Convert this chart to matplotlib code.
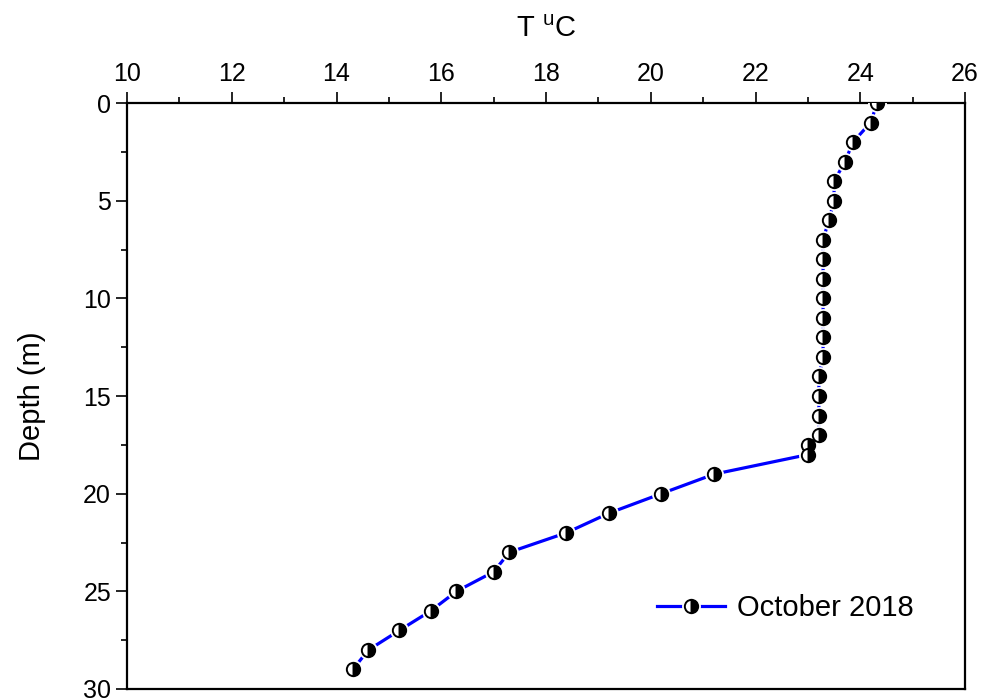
"""Temperature profile, October 2018."""
import matplotlib
matplotlib.use("Agg")
import matplotlib.pyplot as plt
from matplotlib.ticker import MultipleLocator
from matplotlib.legend_handler import HandlerTuple

plt.rcParams["font.family"] = ["Liberation Sans", "DejaVu Sans"]

depth = [0, 1, 2, 3, 4, 5, 6, 7, 8, 9, 10, 11, 12, 13, 14, 15, 16, 17,
         17.5, 18, 19, 20, 21, 22, 23, 24, 25, 26, 27, 28, 29]
temp = [24.32, 24.2, 23.86, 23.71, 23.5, 23.5, 23.4, 23.29, 23.29, 23.29,
        23.29, 23.29, 23.29, 23.29, 23.21, 23.21, 23.21, 23.21,
        23.0, 23.0, 21.21, 20.2, 19.2, 18.39, 17.3, 17.0, 16.29, 15.8,
        15.2, 14.61, 14.31]
label = "October 2018"

fig = plt.figure(figsize=(9.81, 6.98), dpi=100)
ax = fig.add_axes([0.1295, 0.0129, 0.8542, 0.8395])

line, = ax.plot(temp, depth, color="#0000ff", lw=2.3, zorder=2)
# white halo gives the gap between line and symbol
halo, = ax.plot(temp, depth, ls="none", marker="o", ms=13.6, mfc="white",
                mec="none", zorder=3)
mark, = ax.plot(temp, depth, ls="none", marker="o", ms=9.6, fillstyle="right",
                mfc="black", mfcalt="white", mec="black", mew=1.4, zorder=4)

ax.set_xlim(10, 26)
ax.set_ylim(30, 0)
ax.xaxis.set_major_locator(MultipleLocator(2))
ax.xaxis.set_minor_locator(MultipleLocator(1))
ax.yaxis.set_major_locator(MultipleLocator(5))
ax.yaxis.set_minor_locator(MultipleLocator(2.5))
ax.xaxis.tick_top()
ax.xaxis.set_label_position("top")
ax.tick_params(which="major", direction="out", length=8, width=1.2, labelsize=18)
ax.tick_params(which="minor", direction="out", length=4, width=1.2)
ax.tick_params(axis="x", pad=4)
for s in ax.spines.values():
    s.set_linewidth(1.6)

ax.set_xlabel(r"T $^{\mathregular{u}}$C", fontsize=21, labelpad=18)
ax.set_ylabel("Depth (m)", fontsize=21, labelpad=27)

ax.legend([(line, halo, mark)], [label], handler_map={tuple: HandlerTuple(ndivide=1)},
          loc="lower right", bbox_to_anchor=(0.97, 0.07), frameon=False,
          fontsize=21, handlelength=2.35, handletextpad=0.4)

fig.savefig("out.png", dpi=100)
